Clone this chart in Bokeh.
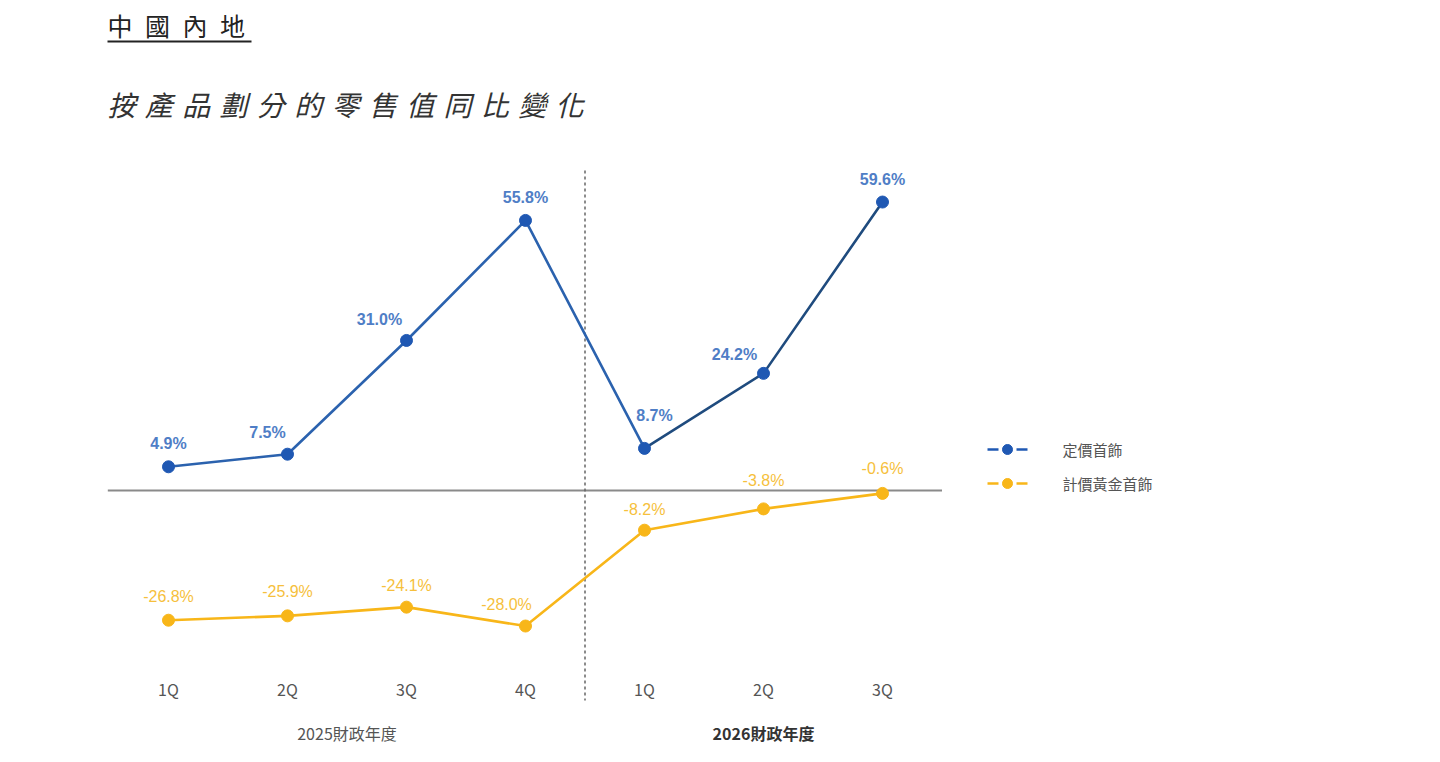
from bokeh.plotting import figure
from bokeh.core.properties import value
from bokeh.embed import file_html
from bokeh.resources import INLINE

# ---- data ----
quarters = ["1Q", "2Q", "3Q", "4Q", "1Q", "2Q", "3Q"]
years = ["2025財政年度", "2026財政年度"]
fixed_price = [4.9, 7.5, 31.0, 55.8, 8.7, 24.2, 59.6]       # 定價首飾
gold_weight = [-26.8, -25.9, -24.1, -28.0, -8.2, -3.8, -0.6]  # 計價黃金首飾
series_names = ["定價首飾", "計價黃金首飾"]
title_text = "中國內地"
subtitle_text = "按產品劃分的零售值同比變化"

# ---- layout helpers (page pixel -> data) ----
X0, XS = 168.0, 119.0
Y0, YS = 490.0, 4.84
def dx(px): return (px - X0) / XS
def dy(py): return (Y0 - py) / YS
W, H = 1424, 746
OX, OY = 0, 0  # where the frame's top-left lands on the page

BLUE_M = "#1f58b3"
BLUE_L1 = "#2b62ae"
BLUE_L2 = "#1f4b7e"
BLUE_T = "#4f7ec6"
GOLD = "#f8b619"
GOLD_T = "#f6bf3c"
CJK = "Noto Sans CJK TC"
NUM = "Liberation Sans"

p = figure(width=W, height=H, output_backend="svg", toolbar_location=None,
           x_range=(dx(OX), dx(OX + W)), y_range=(dy(OY + H), dy(OY)),
           x_axis_location=None, y_axis_location=None, min_border=0,
           tools="")
p.outline_line_color = None
p.grid.visible = False

xs = list(range(len(quarters)))
n1 = 4  # quarters in first fiscal year

# zero line
p.line([-0.51, 6.5], [0, 0], line_color="#8a8a8a", line_width=2)
# divider
xd = (n1 - 1 + n1) / 2
p.line([xd, xd], [dy(170), dy(700)], line_color="#666666", line_width=1.5,
       line_dash="3 3")

# blue series
p.line(xs[:n1 + 1], fixed_price[:n1 + 1], line_color=BLUE_L1, line_width=2.6)
p.line(xs[n1:], fixed_price[n1:], line_color=BLUE_L2, line_width=2.6)
p.scatter(xs, fixed_price, size=12, fill_color=BLUE_M, line_color=BLUE_M)

# gold series
p.line(xs, gold_weight, line_color=GOLD, line_width=2.6)
p.scatter(xs, gold_weight, size=12, fill_color=GOLD, line_color=GOLD)

# value labels (offsets in px)
blue_off = [(0, 23), (-20, 22), (-27, 21), (0, 23), (10, 33), (-29, 19), (0, 23)]
gold_off = [(0, 24), (0, 24), (0, 22), (-19, 22), (0, 21), (0, 28), (0, 25)]
p.text([x + o[0] / XS for x, o in zip(xs, blue_off)],
       [v + o[1] / YS for v, o in zip(fixed_price, blue_off)],
       text=[f"{v:.1f}%" for v in fixed_price],
       text_font=value(NUM), text_font_size="16px", text_color=BLUE_T,
       text_align="center", text_baseline="middle", text_font_style="bold")
p.text([x + o[0] / XS for x, o in zip(xs, gold_off)],
       [v + o[1] / YS for v, o in zip(gold_weight, gold_off)],
       text=[f"{v:.1f}%" for v in gold_weight],
       text_font=value(NUM), text_font_size="16px", text_color=GOLD_T,
       text_align="center", text_baseline="middle")

# category labels
p.text(xs, [dy(688)] * len(xs), text=quarters, text_font=value(CJK),
       text_font_size="16px", text_color="#555555", text_align="center",
       text_baseline="middle")
p.text([(n1 - 1) / 2], [dy(732)], text=[years[0]], text_font=value(CJK),
       text_font_size="16px", text_color="#555555", text_align="center",
       text_baseline="middle")
p.text([(n1 + len(xs) - 1) / 2], [dy(732)], text=[years[1]], text_font=value(CJK),
       text_font_size="16px", text_color="#333333", text_align="center",
       text_baseline="middle", text_font_style="bold")

# titles
p.text([dx(107)], [dy(24)], text=["\u2002".join(title_text)], text_font=value(CJK),
       text_font_size="25px", text_color="#222222", text_align="left",
       text_baseline="middle")
p.line([dx(107), dx(251)], [dy(41), dy(41)], line_color="#222222", line_width=2)
p.text([dx(107)], [dy(103)], text=["\u2004".join(subtitle_text)], text_font=value(CJK),
       text_font_size="28px", text_color="#333333", text_align="left",
       text_baseline="middle", text_font_style="italic")

# legend
for i, (name, col) in enumerate(zip(series_names, [BLUE_M, GOLD])):
    ly = dy(449 + 34 * i)
    p.line([dx(987), dx(998)], [ly, ly], line_color=col, line_width=2.5)
    p.line([dx(1016), dx(1027)], [ly, ly], line_color=col, line_width=2.5)
    p.scatter([dx(1007)], [ly], size=10, fill_color=col, line_color=col)
    p.text([dx(1062)], [ly], text=[name], text_font=value(CJK),
           text_font_size="15px", text_color="#555555", text_align="left",
           text_baseline="middle")

open("out.html", "w").write(file_html(p, INLINE))
